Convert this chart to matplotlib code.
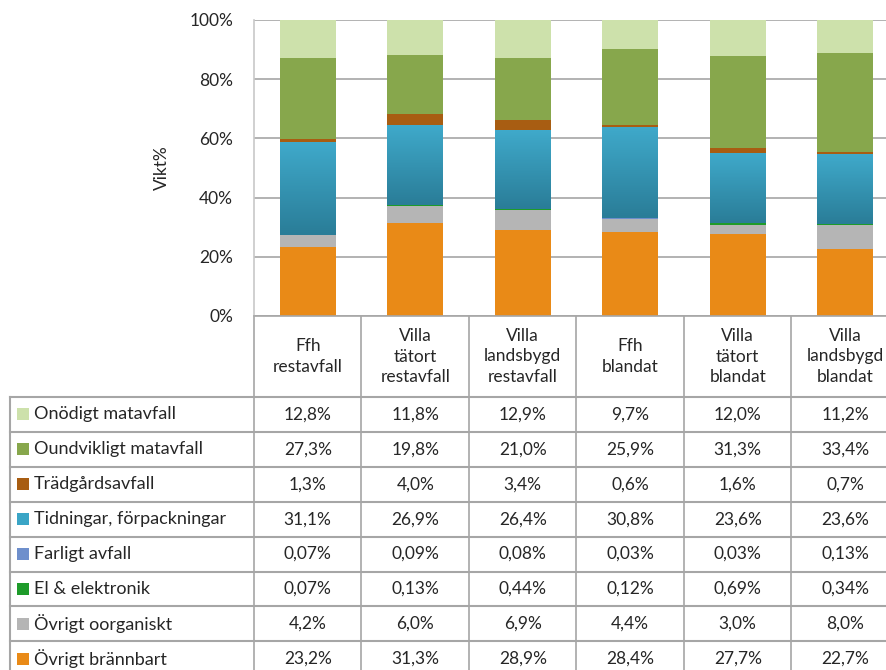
import numpy as np
import matplotlib
matplotlib.use("Agg")
import matplotlib.pyplot as plt
from matplotlib.colors import LinearSegmentedColormap

plt.rcParams['font.family'] = ['Lato', 'DejaVu Sans']

# kategorier (kolumner)
categories = ["Ffh\nrestavfall", "Villa\ntätort\nrestavfall", "Villa\nlandsbygd\nrestavfall",
              "Ffh\nblandat", "Villa\ntätort\nblandat", "Villa\nlandsbygd\nblandat"]

# serier, nerifrån och upp i stapeln
ovrigt_brannbart = [23.2, 31.3, 28.9, 28.4, 27.7, 22.7]
ovrigt_oorganiskt = [4.2, 6.0, 6.9, 4.4, 3.0, 8.0]
el_elektronik = [0.07, 0.13, 0.44, 0.12, 0.69, 0.34]
farligt_avfall = [0.07, 0.09, 0.08, 0.03, 0.03, 0.13]
tidningar = [31.1, 26.9, 26.4, 30.8, 23.6, 23.6]
tradgard = [1.3, 4.0, 3.4, 0.6, 1.6, 0.7]
oundvikligt = [27.3, 19.8, 21.0, 25.9, 31.3, 33.4]
onodigt = [12.8, 11.8, 12.9, 9.7, 12.0, 11.2]

series_names = ["Övrigt brännbart", "Övrigt oorganiskt", "El & elektronik", "Farligt avfall",
                "Tidningar, förpackningar", "Trädgårdsavfall", "Oundvikligt matavfall", "Onödigt matavfall"]
series_vals = [ovrigt_brannbart, ovrigt_oorganiskt, el_elektronik, farligt_avfall,
               tidningar, tradgard, oundvikligt, onodigt]
colors = ["#E98A17", "#B5B5B5", "#1E9B2A", "#6E8FCC",
          "#3AA5C6", "#A85D12", "#87A74C", "#CDE1AB"]
# tabelltext som i originalet
table_txt = [
    ["23,2%", "31,3%", "28,9%", "28,4%", "27,7%", "22,7%"],
    ["4,2%", "6,0%", "6,9%", "4,4%", "3,0%", "8,0%"],
    ["0,07%", "0,13%", "0,44%", "0,12%", "0,69%", "0,34%"],
    ["0,07%", "0,09%", "0,08%", "0,03%", "0,03%", "0,13%"],
    ["31,1%", "26,9%", "26,4%", "30,8%", "23,6%", "23,6%"],
    ["1,3%", "4,0%", "3,4%", "0,6%", "1,6%", "0,7%"],
    ["27,3%", "19,8%", "21,0%", "25,9%", "31,3%", "33,4%"],
    ["12,8%", "11,8%", "12,9%", "9,7%", "12,0%", "11,2%"],
]

W, H = 887, 670
fig = plt.figure(figsize=(W / 100, H / 100), dpi=100)

# geometri i pixlar
plot_left, plot_top, plot_bottom = 254, 20, 316
col_w = 107.5
ncol = len(categories)
header_bottom = 397
row_h = 34.9
table_left = 10
grid_col = "#a6a6a6"
txt_col = "#262626"
fs = 12.5

ax = fig.add_axes([plot_left / W, 1 - plot_bottom / H, ncol * col_w / W, (plot_bottom - plot_top) / H])

data = np.array(series_vals)
totals = data.sum(axis=0)
pct = data / totals * 100
x = np.arange(ncol)
bw = 0.52
bottom = np.zeros(ncol)
blue_cmap = LinearSegmentedColormap.from_list("blu", ["#2A7D98", "#3FA9CA"])
for name, vals, c in zip(series_names, pct, colors):
    if name.startswith("Tidningar"):
        for i in range(ncol):
            grad = np.linspace(0, 1, 50).reshape(-1, 1)
            ax.imshow(grad, cmap=blue_cmap, origin="lower", aspect="auto",
                      extent=(x[i] - bw / 2, x[i] + bw / 2, bottom[i], bottom[i] + vals[i]), zorder=2)
    else:
        ax.bar(x, vals, bw, bottom=bottom, color=c, zorder=2, linewidth=0)
    bottom += vals

ax.set_xlim(-0.5, ncol - 0.5)
ax.set_ylim(0, 100)
ax.set_yticks(np.arange(0, 101, 20))
ax.set_yticklabels([f"{v}%" for v in range(0, 101, 20)], fontsize=fs, color=txt_col)
ax.tick_params(axis="y", length=0, pad=15)
ax.set_xticks([])
ax.grid(axis="y", color=grid_col, lw=1.2, zorder=0)
for s in ["top", "right"]:
    ax.spines[s].set_visible(False)
ax.spines["left"].set_color("#c8c8c8")
ax.spines["bottom"].set_color(grid_col)
ax.spines["left"].set_linewidth(1.2)
ax.spines["bottom"].set_linewidth(1.2)
ax.set_ylabel("Vikt%", fontsize=fs, color=txt_col, labelpad=14)

# tabell under diagrammet
tax = fig.add_axes([0, 0, 1, 1], zorder=-1)
tax.set_xlim(0, W)
tax.set_ylim(H, 0)
tax.axis("off")

nrow = len(series_names)
right_edge = plot_left + ncol * col_w
for i in range(ncol + 1):
    xx = plot_left + i * col_w
    tax.plot([xx, xx], [plot_bottom, H + 5], color=grid_col, lw=1.2)
tax.plot([table_left, table_left], [header_bottom, H + 5], color=grid_col, lw=1.5)
for j in range(nrow + 1):
    yy = header_bottom + j * row_h
    tax.plot([table_left, right_edge], [yy, yy], color=grid_col, lw=1.5)

for i, cat in enumerate(categories):
    tax.text(plot_left + (i + 0.5) * col_w, (plot_bottom + header_bottom) / 2, cat,
             ha="center", va="center", fontsize=fs, color=txt_col, linespacing=1.35)

# rader uppifrån: omvänd stapelordning
for r in range(nrow):
    k = nrow - 1 - r
    yc = header_bottom + (r + 0.5) * row_h
    tax.add_patch(plt.Rectangle((17, yc - 6), 12, 12, color=colors[k], lw=0))
    tax.text(34, yc, series_names[k], ha="left", va="center", fontsize=fs + 0.5, color=txt_col)
    for i in range(ncol):
        tax.text(plot_left + (i + 0.5) * col_w, yc, table_txt[k][i],
                 ha="center", va="center", fontsize=fs, color=txt_col)

fig.savefig("out.png", dpi=100)
